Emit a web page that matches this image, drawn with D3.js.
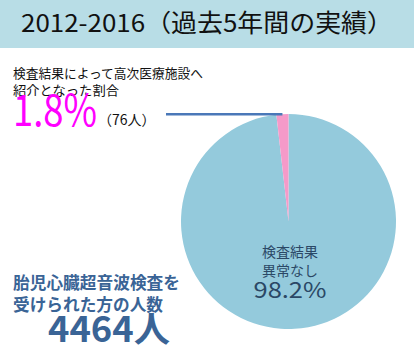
<!DOCTYPE html>
<html><head><meta charset="utf-8">
<script src="https://cdn.jsdelivr.net/npm/d3@7/dist/d3.min.js"></script>
<style>body{margin:0;background:#fff}svg{display:block}text{font-family:"Noto Sans CJK JP","Noto Sans",sans-serif}</style>
</head><body>
<svg id="c" width="414" height="359"></svg>
<script>
const categories = ["検査結果異常なし", "高次医療施設へ紹介"];
const percents = [98.2, 1.8];
const counts = [4388, 76];
const total = 4464;
const colors = ["#94cadc", "#f59ac9"];

const svg = d3.select("#c");
const W = 414, H = 359;
svg.append("rect").attr("x",0).attr("y",0).attr("width",W).attr("height",48).attr("fill","#b8dde6");
svg.append("text").attr("x",21).attr("y",32).attr("font-size",24.5).attr("fill","#111")
  .attr("textLength",372).attr("lengthAdjust","spacingAndGlyphs").text("2012-2016（過去5年間の実績）");

const cx = 288.5, cy = 221.5, r = 107.5;
const pie = d3.pie().sort(null).value(d=>d)(percents);
const arc = d3.arc().innerRadius(0).outerRadius(r);
const g = svg.append("g").attr("transform",`translate(${cx},${cy})`);
g.selectAll("path").data(pie).join("path").attr("d",arc).attr("fill",(d,i)=>colors[i]);

// leader line from pink slice
const p = pie[1];
const mid = (p.startAngle + p.endAngle)/2;
const ex = cx + r*Math.sin(mid), ey = cy - r*Math.cos(mid);
svg.append("line").attr("x1",166).attr("y1",ey).attr("x2",ex).attr("y2",ey)
  .attr("stroke","#4a78b8").attr("stroke-width",2.5);

// left annotation
svg.append("text").attr("x",13).attr("y",78).attr("font-size",13).attr("fill","#111")
  .attr("textLength",190).attr("lengthAdjust","spacingAndGlyphs").text("検査結果によって高次医療施設へ");
svg.append("text").attr("x",13).attr("y",95).attr("font-size",13).attr("fill","#111")
  .attr("textLength",106).attr("lengthAdjust","spacingAndGlyphs").text("紹介となった割合");
svg.append("text").attr("x",13).attr("y",126).attr("font-size",43).attr("fill","#ff00ff")
  .attr("font-family","Liberation Sans, sans-serif").attr("textLength",84).attr("lengthAdjust","spacingAndGlyphs").text(percents[1]+"%");
svg.append("text").attr("x",98).attr("y",125).attr("font-size",14).attr("fill","#111").text("（"+counts[1]+"人）");

// pie label
const lab = svg.append("g").attr("fill","#2b4866").attr("text-anchor","middle");
lab.append("text").attr("x",290).attr("y",257).attr("font-size",14).text("検査結果");
lab.append("text").attr("x",290).attr("y",276).attr("font-size",14).text("異常なし");
lab.append("text").attr("x",290).attr("y",298).attr("font-size",22).attr("font-family","Liberation Sans, sans-serif")
  .attr("textLength",73).attr("lengthAdjust","spacingAndGlyphs").text(percents[0]+"%");

// bottom-left
const bl = svg.append("g").attr("fill","#3a6496").attr("font-weight","bold");
bl.append("text").attr("x",13).attr("y",289).attr("font-size",16.5)
  .attr("textLength",167).attr("lengthAdjust","spacingAndGlyphs").text("胎児心臓超音波検査を");
bl.append("text").attr("x",13).attr("y",311).attr("font-size",16.5)
  .attr("textLength",150).attr("lengthAdjust","spacingAndGlyphs").text("受けられた方の人数");
bl.append("text").attr("x",48).attr("y",342).attr("font-size",35)
  .attr("textLength",122).attr("lengthAdjust","spacingAndGlyphs").text(total+"人");
</script>
</body></html>
